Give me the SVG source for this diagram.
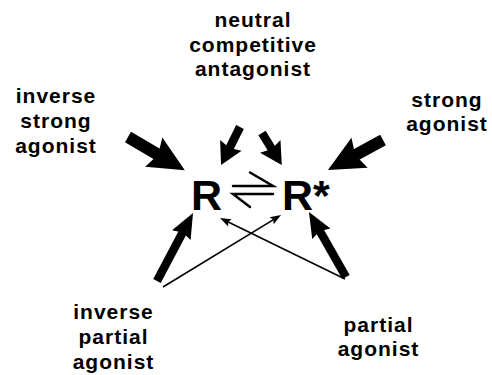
<svg xmlns="http://www.w3.org/2000/svg" width="492" height="375" viewBox="0 0 492 375">
<style>
.lbl{font-family:"Liberation Sans",Arial,Helvetica,sans-serif;font-weight:bold;font-size:21px;letter-spacing:1px;fill:#000;text-anchor:middle}
.big{font-family:"Liberation Sans",Arial,Helvetica,sans-serif;font-weight:bold;font-size:43px;fill:#000}
.s12{stroke:#000;stroke-width:12;fill:none}
.s9{stroke:#000;stroke-width:8.5;fill:none}
.thin{stroke:#000;stroke-width:1.6;fill:none}
.eq{stroke:#000;stroke-width:2.5;fill:none;stroke-linecap:round}
</style>
<defs>
<marker id="mBig" markerUnits="userSpaceOnUse" orient="auto" refX="0" refY="0" markerWidth="40" markerHeight="40" overflow="visible">
<path d="M21,0 L-15,-17 L-10,0 L-15,17 Z" fill="#000"/>
</marker>
<marker id="mMid" markerUnits="userSpaceOnUse" orient="auto" refX="0" refY="0" markerWidth="30" markerHeight="30" overflow="visible">
<path d="M12,0 L-10,-12 L-7,0 L-10,12 Z" fill="#000"/>
</marker>
<marker id="mPart" markerUnits="userSpaceOnUse" orient="auto" refX="0" refY="0" markerWidth="30" markerHeight="30" overflow="visible">
<path d="M12,0 L-13,-10.5 L-10,0 L-13,10.5 Z" fill="#000"/>
</marker>
<marker id="mThin" markerUnits="userSpaceOnUse" orient="auto" refX="0" refY="0" markerWidth="14" markerHeight="14" overflow="visible">
<path d="M4,0 L-7,-4 L-5,0 L-7,4 Z" fill="#000"/>
</marker>
</defs>
<rect width="492" height="375" fill="#fff"/>

<g id="connectors">
<line class="s12" x1="128" y1="137" x2="166.7" y2="159.7" marker-end="url(#mBig)"/>
<line class="s12" x1="383" y1="140" x2="346.4" y2="159.9" marker-end="url(#mBig)"/>
<line class="s9" x1="240" y1="127" x2="226.4" y2="154.3" marker-end="url(#mMid)"/>
<line class="s9" x1="262" y1="133" x2="275.5" y2="154.9" marker-end="url(#mMid)"/>
<line class="s9" x1="157" y1="281" x2="187.4" y2="223.6" marker-end="url(#mPart)"/>
<line class="s9" x1="346" y1="277" x2="314.9" y2="222.4" marker-end="url(#mPart)"/>
<line class="thin" x1="163" y1="287" x2="277.6" y2="217.1" marker-end="url(#mThin)"/>
<line class="thin" x1="345" y1="279" x2="223.6" y2="219.8" marker-end="url(#mThin)"/>
<g id="equilibrium">
<path class="eq" d="M233,186 H273 L250,172.5"/>
<path class="eq" d="M273,194 H233 L250,207"/>
</g>
</g>

<g id="R"><text class="big" x="191" y="209.5">R</text></g>
<g id="Rstar"><text class="big" x="282" y="209.5">R*</text></g>

<g id="neutral-competitive-antagonist">
<text class="lbl" x="253" y="27">neutral</text>
<text class="lbl" x="253" y="51.5">competitive</text>
<text class="lbl" x="253" y="76">antagonist</text>
</g>
<g id="inverse-strong-agonist">
<text class="lbl" x="56" y="103">inverse</text>
<text class="lbl" x="56" y="128">strong</text>
<text class="lbl" x="56" y="152.5">agonist</text>
</g>
<g id="strong-agonist">
<text class="lbl" x="447" y="107">strong</text>
<text class="lbl" x="447" y="130.5">agonist</text>
</g>
<g id="inverse-partial-agonist">
<text class="lbl" x="113.5" y="319">inverse</text>
<text class="lbl" x="113.5" y="344">partial</text>
<text class="lbl" x="113.5" y="368.5">agonist</text>
</g>
<g id="partial-agonist">
<text class="lbl" x="378.5" y="332">partial</text>
<text class="lbl" x="378.5" y="355.5">agonist</text>
</g>
</svg>
